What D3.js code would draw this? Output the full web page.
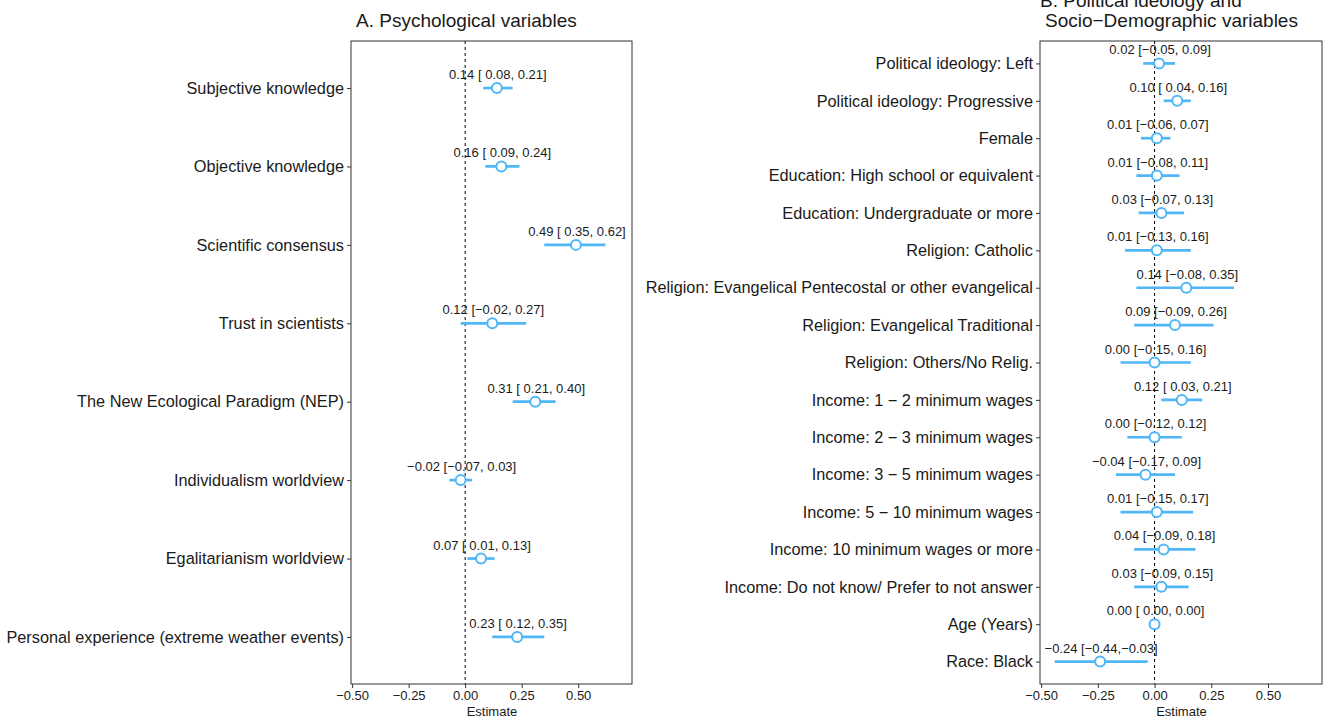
<!DOCTYPE html>
<html>
<head>
<meta charset="utf-8">
<script src="https://cdn.jsdelivr.net/npm/d3@7"></script>
<style>
  body { margin: 0; background: #fff; }
  svg text { font-family: "Liberation Sans", Arial, Helvetica, sans-serif; fill: #1a1a1a; }
</style>
</head>
<body>
<div id="chart"></div>
<script>
// Panel A: psychological variables
const psychVars = [
  "Subjective knowledge", "Objective knowledge", "Scientific consensus",
  "Trust in scientists", "The New Ecological Paradigm (NEP)",
  "Individualism worldview", "Egalitarianism worldview",
  "Personal experience (extreme weather events)"
];
const psychEst = [0.14, 0.16, 0.49, 0.12, 0.31, -0.02, 0.07, 0.23];
const psychLo  = [0.08, 0.09, 0.35, -0.02, 0.21, -0.07, 0.01, 0.12];
const psychHi  = [0.21, 0.24, 0.62, 0.27, 0.40, 0.03, 0.13, 0.35];

// Panel B: political ideology and socio-demographics
const demoVars = [
  "Political ideology: Left", "Political ideology: Progressive", "Female",
  "Education: High school or equivalent", "Education: Undergraduate or more",
  "Religion: Catholic", "Religion: Evangelical Pentecostal or other evangelical",
  "Religion: Evangelical Traditional", "Religion: Others/No Relig.",
  "Income: 1 \u2212 2 minimum wages", "Income: 2 \u2212 3 minimum wages",
  "Income: 3 \u2212 5 minimum wages", "Income: 5 \u2212 10 minimum wages",
  "Income: 10 minimum wages or more", "Income: Do not know/ Prefer to not answer",
  "Age (Years)", "Race: Black"
];
const demoEst = [0.02, 0.10, 0.01, 0.01, 0.03, 0.01, 0.14, 0.09, 0.00, 0.12, 0.00, -0.04, 0.01, 0.04, 0.03, 0.00, -0.24];
const demoLo  = [-0.05, 0.04, -0.06, -0.08, -0.07, -0.13, -0.08, -0.09, -0.15, 0.03, -0.12, -0.17, -0.15, -0.09, -0.09, 0.00, -0.44];
const demoHi  = [0.09, 0.16, 0.07, 0.11, 0.13, 0.16, 0.35, 0.26, 0.16, 0.21, 0.12, 0.09, 0.17, 0.18, 0.15, 0.00, -0.03];

const xTicks = [-0.5, -0.25, 0, 0.25, 0.5];

const W = 1323, H = 718;
const blue = "#4fb6f7";
const svg = d3.select("#chart").append("svg")
  .attr("width", W).attr("height", H);

// sprintf-like "%5.2f" with a true minus sign
const fmt = d3.format(".2f");
const pad5 = v => { const s = fmt(v); return s.length < 5 ? " " + s : s; };
const ciLabel = (e, lo, hi) => fmt(e) + " [" + pad5(lo) + "," + pad5(hi) + "]";

function panel(left, right, cats, est, lo, hi) {
  const top = 41, bottom = 684;
  const x = d3.scaleLinear().domain([-0.505, 0.738]).range([left, right]);
  const y = d3.scalePoint().domain(cats).range([top, bottom]).padding(0.6);
  const g = svg.append("g");

  const rows = cats.map((c, i) => ({ c, e: est[i], lo: lo[i], hi: hi[i] }));

  // zero reference line
  g.append("line")
    .attr("x1", x(0)).attr("x2", x(0))
    .attr("y1", top).attr("y2", bottom)
    .attr("stroke", "#000").attr("stroke-width", 1)
    .attr("stroke-dasharray", "3,3");

  // CI bars
  g.selectAll(".ci").data(rows).join("line")
    .attr("x1", d => x(d.lo)).attr("x2", d => x(d.hi))
    .attr("y1", d => y(d.c)).attr("y2", d => y(d.c))
    .attr("stroke", blue).attr("stroke-width", 2.7);

  // point estimates
  g.selectAll(".pt").data(rows).join("circle")
    .attr("cx", d => x(d.e)).attr("cy", d => y(d.c))
    .attr("r", 5)
    .attr("fill", "#fff").attr("stroke", blue).attr("stroke-width", 2);

  // labels above points
  g.selectAll(".lab").data(rows).join("text")
    .attr("x", d => x(d.e) + 1).attr("y", d => y(d.c) - 9)
    .attr("text-anchor", "middle")
    .attr("font-size", 13)
    .style("white-space", "pre")
    .text(d => ciLabel(d.e, d.lo, d.hi));

  // panel border
  g.append("rect")
    .attr("x", left).attr("y", top)
    .attr("width", right - left).attr("height", bottom - top)
    .attr("fill", "none").attr("stroke", "#333").attr("stroke-width", 1);

  // x axis
  const xa = g.append("g").attr("transform", `translate(0,${bottom})`)
    .call(d3.axisBottom(x).tickValues(xTicks).tickFormat(d3.format(".2f"))
      .tickSize(4).tickPadding(3));
  xa.select(".domain").remove();
  xa.selectAll("line").attr("stroke", "#333");
  xa.selectAll("text").attr("font-size", 13).attr("fill", "#1a1a1a")
    .style("font-family", "'Liberation Sans', Arial, sans-serif");

  g.append("text")
    .attr("x", (left + right) / 2 + 0.5).attr("y", 716)
    .attr("text-anchor", "middle").attr("font-size", 13)
    .text("Estimate");

  // y axis
  const ya = g.append("g").attr("transform", `translate(${left},0)`)
    .call(d3.axisLeft(y).tickSize(4).tickPadding(3));
  ya.select(".domain").remove();
  ya.selectAll("line").attr("stroke", "#333");
  ya.selectAll("text").attr("font-size", 16.3).attr("fill", "#1a1a1a")
    .style("font-family", "'Liberation Sans', Arial, sans-serif");
}

panel(351, 632, psychVars, psychEst, psychLo, psychHi);
panel(1040, 1322, demoVars, demoEst, demoLo, demoHi);

// titles (first line of B is clipped by the top edge, as in the source)
svg.append("text").attr("x", 356).attr("y", 27).attr("font-size", 19)
  .text("A. Psychological variables");
svg.append("text").attr("x", 1040).attr("y", 7).attr("font-size", 19)
  .text("B. Political ideology and");
svg.append("text").attr("x", 1045).attr("y", 27).attr("font-size", 19)
  .text("Socio\u2212Demographic variables");
</script>
</body>
</html>
